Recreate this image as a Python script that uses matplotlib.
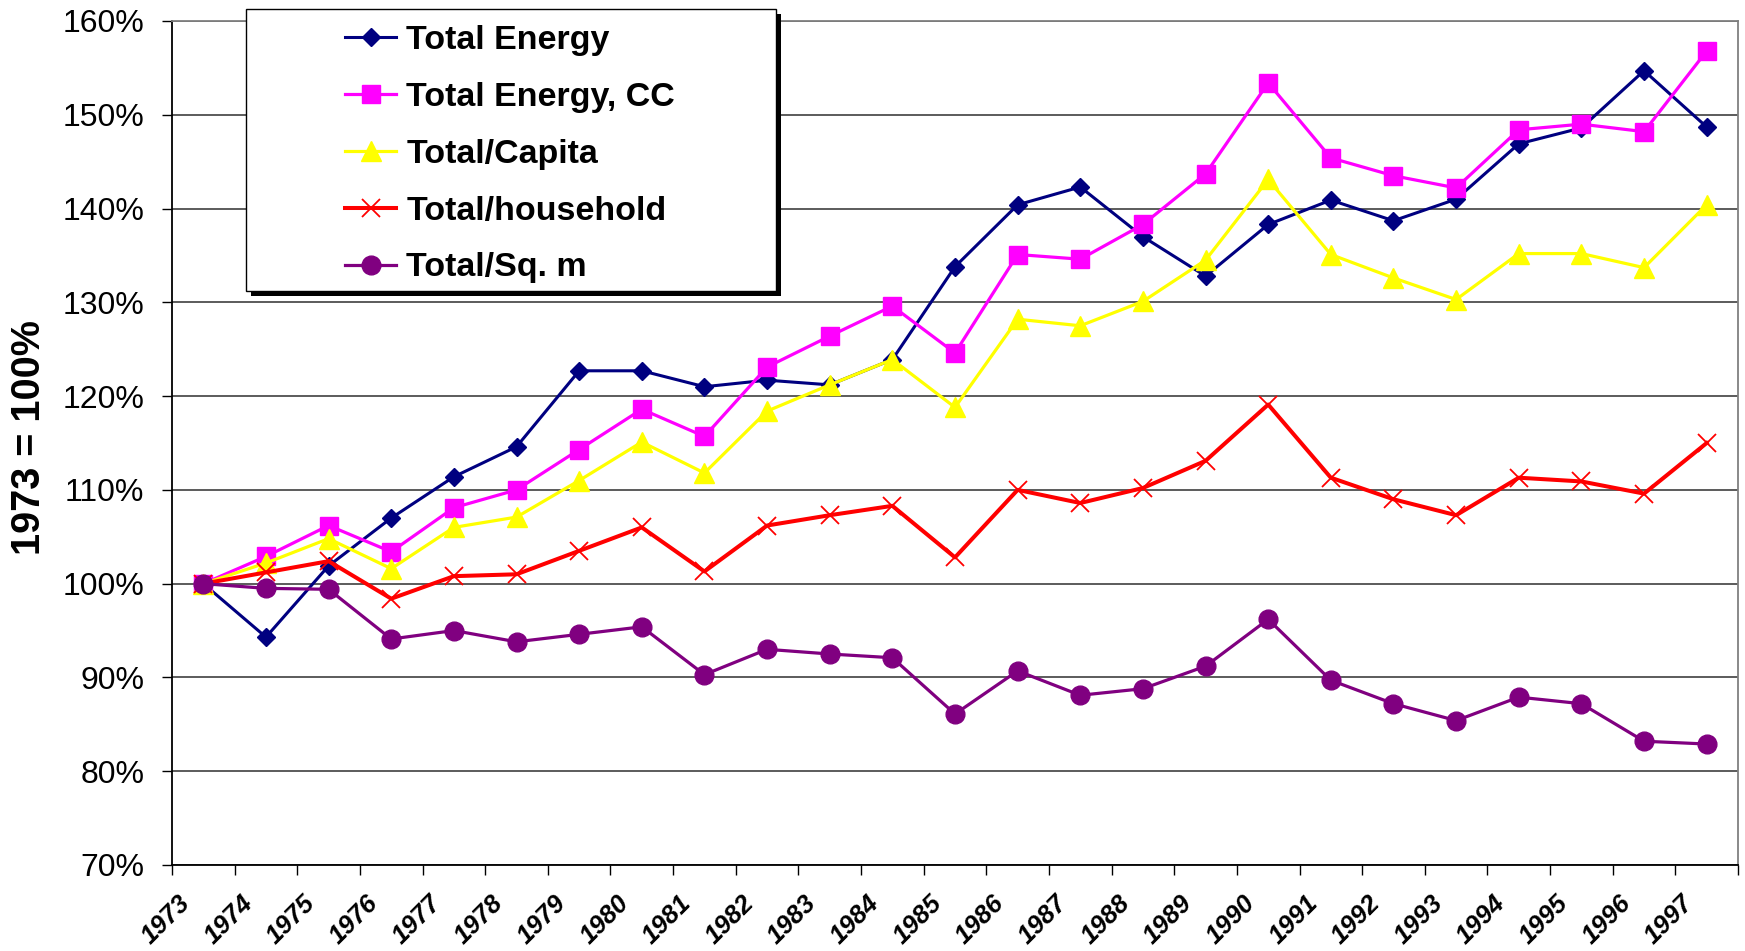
import numpy as np
import matplotlib
matplotlib.use('Agg')
import matplotlib.pyplot as plt
from matplotlib.patches import Rectangle
from matplotlib.transforms import ScaledTranslation

plt.rcParams['font.family'] = ['Liberation Sans', 'DejaVu Sans']

years = [str(y) for y in range(1973, 1998)]

total_energy = [100.0, 94.3, 101.9, 107.0, 111.4, 114.6, 122.7, 122.7, 121.0, 121.7,
                121.2, 123.9, 133.8, 140.4, 142.3, 137.0, 132.8, 138.3, 140.9, 138.7,
                141.0, 146.9, 148.6, 154.7, 148.7]
total_energy_cc = [100.0, 102.9, 106.2, 103.4, 108.1, 110.0, 114.3, 118.6, 115.7, 123.1,
                   126.4, 129.6, 124.6, 135.1, 134.6, 138.3, 143.7, 153.4, 145.4, 143.5,
                   142.2, 148.4, 149.0, 148.2, 156.8]
total_capita = [100.0, 102.2, 104.8, 101.6, 106.0, 107.1, 111.0, 115.1, 111.8, 118.4,
                121.2, 123.9, 118.8, 128.2, 127.5, 130.1, 134.5, 143.1, 135.1, 132.6,
                130.3, 135.2, 135.2, 133.7, 140.4]
total_household = [100.0, 101.2, 102.4, 98.4, 100.8, 101.0, 103.5, 106.0, 101.3, 106.2,
                   107.3, 108.3, 102.8, 110.0, 108.6, 110.2, 113.1, 119.1, 111.3, 109.0,
                   107.3, 111.3, 110.9, 109.6, 115.0]
total_sqm = [100.0, 99.5, 99.4, 94.1, 95.0, 93.8, 94.6, 95.4, 90.3, 93.0,
             92.5, 92.1, 86.1, 90.7, 88.1, 88.8, 91.2, 96.2, 89.7, 87.2,
             85.4, 87.9, 87.2, 83.2, 82.9]

series = [
    ('Total Energy', total_energy, '#000080', 'D', 9, 2.2),
    ('Total Energy, CC', total_energy_cc, '#FF00FF', 's', 13, 2.3),
    ('Total/Capita', total_capita, '#FFFF00', '^', 14, 2.3),
    ('Total/household', total_household, '#FF0000', 'x', 13, 2.9),
    ('Total/Sq. m', total_sqm, '#800080', 'o', 13.5, 2.3),
]

W, H, DPI = 1745, 951, 100
fig = plt.figure(figsize=(W / DPI, H / DPI), dpi=DPI)
ax = fig.add_axes([172 / W, 1 - 865 / H, (1738 - 172) / W, (865 - 21) / H])

x = np.arange(len(years))
handles = []
for name, vals, col, mk, ms, lw in series:
    if mk == 'x':
        ln, = ax.plot(x, vals, color=col, lw=lw, marker=mk, ms=ms, mew=1.3,
                      label=name, zorder=3)
    else:
        ln, = ax.plot(x, vals, color=col, lw=lw, marker=mk, ms=ms,
                      mec=col, mfc=col, label=name, zorder=3)
    handles.append(ln)

ax.set_xlim(-0.5, len(years) - 0.5)
ax.set_ylim(70, 160)
yt = np.arange(70, 161, 10)
ax.set_yticks(yt)
ax.set_yticklabels([f'{v}%' for v in yt], fontsize=23)
ax.yaxis.grid(True, color='#404040', lw=1.2)
ax.set_axisbelow(True)

ax.set_xticks(x)
ax.set_xticklabels(years, fontsize=18.5, fontweight='bold', fontstyle='italic',
                   rotation=45, ha='right', va='center', rotation_mode='anchor')
ax.set_xticks(np.arange(-0.5, len(years), 1.0), minor=True)
ax.tick_params(axis='x', which='major', length=0, pad=25)
ax.tick_params(axis='x', which='minor', length=7, width=1, direction='out')
ax.tick_params(axis='y', length=7, width=1, direction='out', pad=13)
shift = ScaledTranslation(-17 / DPI, 0, fig.dpi_scale_trans)
for lbl in ax.get_xticklabels():
    lbl.set_transform(lbl.get_transform() + shift)

for s in ['left', 'bottom']:
    ax.spines[s].set_color('black')
    ax.spines[s].set_linewidth(1.3)
for s in ['right', 'top']:
    ax.spines[s].set_color('#808080')
    ax.spines[s].set_linewidth(1.3)

ax.set_ylabel('1973 = 100%', fontsize=28.5, fontweight='bold', va='center')
ax.yaxis.set_label_coords(-0.0913, 0.507)

# legend box with black drop shadow
bx0, by0, bx1, by1 = 246, 9, 776, 291
fig.patches.append(Rectangle((bx0 + 5, H - by1 - 5), bx1 - bx0, by1 - by0,
                             transform=None, facecolor='black', edgecolor='none',
                             zorder=4))
fig.patches.append(Rectangle((bx0, H - by1), bx1 - bx0, by1 - by0,
                             transform=None, facecolor='white', edgecolor='black',
                             lw=1.0, zorder=4.5))
leg = fig.legend(handles=handles, loc='upper left',
                 bbox_to_anchor=(345 / W, 1 - 25 / H), frameon=False,
                 prop={'size': 24.5, 'weight': 'bold'}, borderpad=0,
                 borderaxespad=0, handlelength=1.5, handletextpad=0.3,
                 labelspacing=0.76)
leg.set_zorder(6)

fig.savefig('out.png', dpi=DPI, facecolor='white')
